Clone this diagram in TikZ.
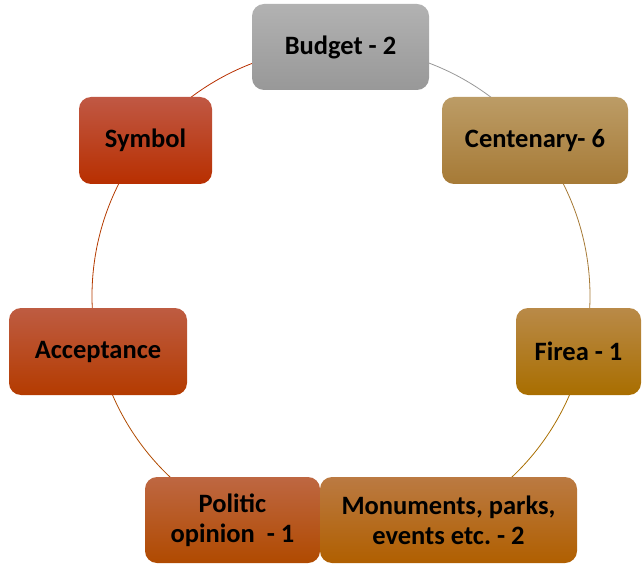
\documentclass[tikz,border=0pt]{standalone}
\usepackage{fontspec}
\setmainfont{Carlito}
\frenchspacing
\definecolor{gTop}{HTML}{B2B2B2}\definecolor{gBot}{HTML}{989898}
\definecolor{cTop}{HTML}{BC9C66}\definecolor{cBot}{HTML}{A67A36}
\definecolor{fTop}{HTML}{B98A48}\definecolor{fBot}{HTML}{A96E00}
\definecolor{mTop}{HTML}{BB7A42}\definecolor{mBot}{HTML}{B05F00}
\definecolor{pTop}{HTML}{BE6742}\definecolor{pBot}{HTML}{B04A00}
\definecolor{aTop}{HTML}{BE5C42}\definecolor{aBot}{HTML}{B43B00}
\definecolor{sTop}{HTML}{C05844}\definecolor{sBot}{HTML}{B82F00}
\begin{document}
\begin{tikzpicture}[x=1pt,y=1pt,
  box/.style={rounded corners=12pt, inner sep=2pt, align=center,
    font=\fontsize{26.5}{30}\selectfont\bfseries, text=black},
  arcline/.style={line width=0.8pt}]
\useasboundingbox (0,0) rectangle (642,563);
\coordinate (O) at (341,267);
% arcs
\draw[arcline, gBot] (O) ++(90:249) arc[start angle=90, end angle=38.8, radius=249];
\draw[arcline, cBot] (O) ++(38.8:249) arc[start angle=38.8, end angle=-13, radius=249];
\draw[arcline, fBot] (O) ++(-13:249) arc[start angle=-13, end angle=-64, radius=249];
\draw[arcline, pBot] (O) ++(-116:249) arc[start angle=-116, end angle=-167, radius=249];
\draw[arcline, aBot] (O) ++(-167:249) arc[start angle=-167, end angle=-218.5, radius=249];
\draw[arcline, sBot] (O) ++(141.5:249) arc[start angle=141.5, end angle=90, radius=249];
% nodes
\node[box, top color=gTop, bottom color=gBot, minimum width=177pt, minimum height=86pt] (budget) at (340.5,516) {Budget - 2};
\node[box, top color=cTop, bottom color=cBot, minimum width=186pt, minimum height=87pt] (cent) at (535,422.5) {Centenary- 6};
\node[box, top color=fTop, bottom color=fBot, minimum width=125pt, minimum height=87pt] (firea) at (578.5,211.5) {Firea - 1};
\node[box, top color=pTop, bottom color=pBot, minimum width=175pt, minimum height=86pt] (pol) at (232.5,43) {Politic\\opinion\ \ - 1};
\node[box, top color=mTop, bottom color=mBot, minimum width=257pt, minimum height=86pt] (mon) at (448.5,43) {Monuments, parks,\\events etc. - 2};
\node[box, top color=aTop, bottom color=aBot, minimum width=178pt, minimum height=87pt] (acc) at (98,211.5) {Acceptance};
\node[box, top color=sTop, bottom color=sBot, minimum width=133pt, minimum height=87pt] (sym) at (145.5,422.5) {Symbol};
\end{tikzpicture}
\end{document}
